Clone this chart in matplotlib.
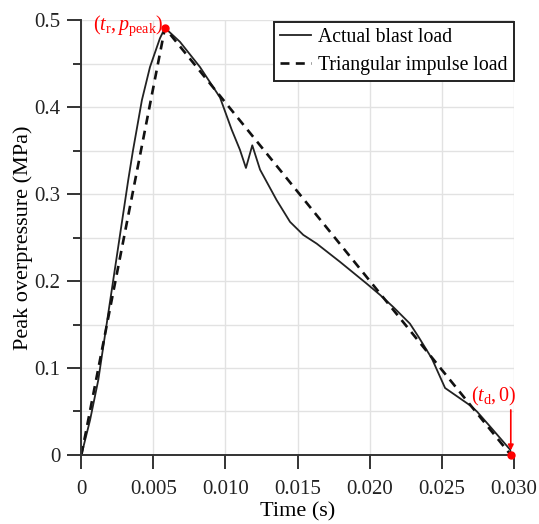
import numpy as np
import matplotlib
matplotlib.use('Agg')
import matplotlib.pyplot as plt
from matplotlib.ticker import MultipleLocator, FuncFormatter

plt.rcParams['font.family'] = 'Liberation Serif'
plt.rcParams['mathtext.fontset'] = 'custom'
plt.rcParams['mathtext.rm'] = 'Liberation Serif'
plt.rcParams['mathtext.it'] = 'Liberation Serif:italic'

# actual blast load (s, MPa)
t_actual = [0, 0.0006, 0.00117, 0.00221, 0.00325, 0.00358, 0.0042, 0.00476, 0.00545,
            0.0058, 0.00684, 0.00823, 0.00962, 0.01043, 0.0110, 0.01142, 0.01186,
            0.0124, 0.01355, 0.01448, 0.0154, 0.01633, 0.01795, 0.0198, 0.02073,
            0.02165, 0.0228, 0.02339, 0.02432, 0.02524, 0.02698, 0.02745, 0.02837,
            0.02976, 0.0298]
p_actual = [0, 0.040, 0.086, 0.201, 0.316, 0.350, 0.408, 0.446, 0.479,
            0.491, 0.475, 0.446, 0.411, 0.374, 0.351, 0.330, 0.356,
            0.328, 0.293, 0.268, 0.253, 0.243, 0.222, 0.197, 0.184,
            0.170, 0.151, 0.136, 0.111, 0.077, 0.057, 0.050, 0.0326,
            0.006, 0.0]

# triangular impulse load
t_tri = [0, 0.0058, 0.0298]
p_tri = [0, 0.491, 0]

t_r, p_peak = 0.0058, 0.491
t_d = 0.0298

fig = plt.figure(figsize=(5.39, 5.24), dpi=100)
ax = fig.add_axes([0.151, 0.1317, 0.802, 0.830])

ax.plot(t_actual, p_actual, color='#222222', lw=1.3, label='Actual blast load')
ax.plot(t_tri, p_tri, color='#111111', lw=1.9, ls=(0, (3.4, 2.4)), label='Triangular impulse load')

ax.plot([t_r], [p_peak], 'o', color='red', ms=5, zorder=5, clip_on=False)
ax.plot([t_d], [0], 'o', color='red', ms=5, zorder=5, clip_on=False)
ax.text(t_r - 0.0001, p_peak + 0.002, r'$(t_{\mathrm{r}}, p_{\mathrm{peak}})$', color='red',
        fontsize=14.5, ha='right', va='center')
ax.text(0.02865, 0.0667, r'$(t_{\mathrm{d}}, 0)$', color='red', fontsize=14.5, ha='center', va='center')
ax.annotate('', xy=(t_d, 0.002), xytext=(t_d, 0.055),
            arrowprops=dict(arrowstyle='-|>', color='red', lw=1.2, mutation_scale=8))

ax.set_xlim(0, 0.030)
ax.set_ylim(0, 0.5)
ax.xaxis.set_major_locator(MultipleLocator(0.005))
ax.yaxis.set_major_locator(MultipleLocator(0.1))
ax.yaxis.set_minor_locator(MultipleLocator(0.05))
ax.xaxis.set_major_formatter(FuncFormatter(lambda v, p: '0' if abs(v) < 1e-9 else f'{v:.3f}'))
ax.yaxis.set_major_formatter(FuncFormatter(lambda v, p: '0' if abs(v) < 1e-9 else f'{v:.1f}'))

ax.grid(True, which='major', axis='x', color='#e2e2e2', lw=1)
ax.grid(True, which='both', axis='y', color='#e2e2e2', lw=1)
ax.set_axisbelow(True)

for s in ['top', 'right']:
    ax.spines[s].set_visible(False)
for s in ['left', 'bottom']:
    ax.spines[s].set_color('#333333')
    ax.spines[s].set_linewidth(1.4)
ax.tick_params(which='major', length=10, width=1.4, color='#333333', labelsize=15,
               labelcolor='#222222')
ax.tick_params(axis='x', which='major', pad=8)
ax.tick_params(axis='y', which='major', pad=5)
ax.tick_params(which='minor', length=6, width=1.4, color='#333333')

ax.set_xlabel('Time (s)', fontsize=16, labelpad=2)
ax.set_ylabel('Peak overpressure (MPa)', fontsize=16, labelpad=1)

leg = ax.legend(loc='upper right', bbox_to_anchor=(1.0, 0.996), fontsize=14.2, frameon=True,
                fancybox=False, edgecolor='#222222', handlelength=1.6, borderpad=0.3,
                labelspacing=0.45, handletextpad=0.35, borderaxespad=0.0)
leg.get_frame().set_linewidth(1.4)
leg.get_frame().set_alpha(1)

fig.savefig('out.png', dpi=100)
